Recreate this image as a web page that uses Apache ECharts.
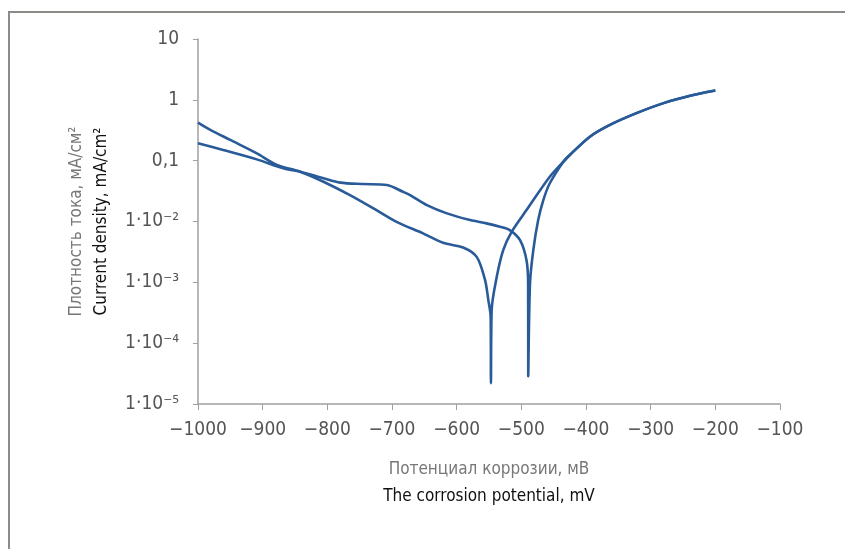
<!DOCTYPE html>
<html>
<head>
<meta charset="utf-8">
<script src="https://cdn.jsdelivr.net/npm/echarts@6/dist/echarts.min.js"></script>
<style>
  html, body { margin: 0; padding: 0; background: #fff; }
  #chart { width: 845px; height: 549px; }
</style>
</head>
<body>
<div id="chart"></div>
<script>
// curve 1 (Ecorr about -547 mV)
const curve1X = [-1000, -981, -950, -909, -878, -842, -806, -765, -724, -693, -652, -621, -590, -569, -556, -551, -547.4, -547,
  -545.9, -538, -528, -515, -492, -456, -430, -425, -394, -363, -322, -280, -239, -200];
const curve1Y = [0.423, 0.321, 0.219, 0.132, 0.0849, 0.0659, 0.0451, 0.0272, 0.0154, 0.00989, 0.00637, 0.00446, 0.00374, 0.00262, 0.00108, 0.000507, 0.000269, 0.000022,
  0.000347, 0.00123, 0.00338, 0.00676, 0.0154, 0.0545, 0.1096, 0.124, 0.248, 0.387, 0.604, 0.883, 1.164, 1.42];

// curve 2 (Ecorr about -489 mV)
const curve2X = [-1000, -961, -909, -868, -842, -806, -780, -744, -708, -683, -672, -646, -615, -579, -554, -533, -518, -502, -492, -489.5, -489.3,
  -486.6, -481.5, -474, -466, -456, -435, -425, -394, -363, -322, -280, -239, -200];
const curve2Y = [0.194, 0.150, 0.105, 0.0750, 0.0659, 0.0513, 0.0435, 0.0413, 0.0398, 0.0308, 0.0272, 0.0186, 0.0136, 0.01054, 0.00931, 0.00819, 0.00722, 0.00494, 0.00231, 0.000955, 0.0000284,
  0.000955, 0.00338, 0.0105, 0.0225, 0.0425, 0.0964, 0.124, 0.248, 0.387, 0.604, 0.883, 1.164, 1.42];

const yTickLabels = ["1·10⁻⁵", "1·10⁻⁴", "1·10⁻³", "1·10⁻²", "0,1", "1", "10"];
const xTicks = [-1000, -900, -800, -700, -600, -500, -400, -300, -200, -100];

const FONT = "'Liberation Sans Narrow', 'DejaVu Sans Condensed', 'Roboto Condensed', 'Noto Sans', sans-serif";
const LINE = "#2a5b99";

const pairs = (xs, ys) => xs.map((x, i) => [x, ys[i]]);

const chart = echarts.init(document.getElementById("chart"));
chart.setOption({
  animation: false,
  graphic: [
    {
      type: "rect",
      shape: { x: 9, y: 12, width: 900, height: 600 },
      style: { fill: "none", stroke: "#8b8b87", lineWidth: 2 },
      silent: true,
    },
  ],
  grid: { left: 198, right: 65, top: 39, bottom: 145 },
  xAxis: {
    type: "value",
    min: -1000,
    max: -100,
    interval: 100,
    axisLine: { lineStyle: { color: "#a0a0a0", width: 1.5 } },
    axisTick: { show: true, length: 6, lineStyle: { color: "#a0a0a0" } },
    splitLine: { show: false },
    axisLabel: {
      margin: 17,
      color: "#555",
      fontSize: 19,
      fontFamily: FONT,
      formatter: (v) => {
        const t = xTicks.find((x) => x === v);
        return t < 0 ? "−" + Math.abs(t) : String(t);
      },
    },
    name: "{a|Потенциал коррозии, мВ}\n{b|The corrosion potential, mV}",
    nameLocation: "middle",
    nameGap: 52,
    nameTextStyle: {
      fontFamily: FONT,
      rich: {
        a: { fontSize: 17, color: "#777", fontFamily: FONT, lineHeight: 27 },
        b: { fontSize: 17, color: "#111", fontFamily: FONT, lineHeight: 27 },
      },
    },
  },
  yAxis: {
    type: "log",
    logBase: 10,
    min: 1e-5,
    max: 10,
    axisLine: { show: true, lineStyle: { color: "#a0a0a0", width: 1.5 } },
    axisTick: { show: true, length: 5, lineStyle: { color: "#a0a0a0" } },
    splitLine: { show: false },
    axisLabel: {
      margin: 19,
      color: "#555",
      fontSize: 19,
      fontFamily: FONT,
      formatter: (v) => yTickLabels[Math.round(Math.log10(v)) + 5],
    },
    name: "{a|Плотность тока, мА/см²}\n{b|Current density, mA/cm²}",
    nameLocation: "middle",
    nameGap: 84,
    nameRotate: 90,
    nameTextStyle: {
      fontFamily: FONT,
      rich: {
        a: { fontSize: 17, color: "#777", fontFamily: FONT, lineHeight: 25 },
        b: { fontSize: 17, color: "#111", fontFamily: FONT, lineHeight: 25 },
      },
    },
  },
  series: [
    {
      type: "line",
      data: pairs(curve1X, curve1Y),
      showSymbol: false,
      smooth: 0.3,
      lineStyle: { color: LINE, width: 2.6 },
    },
    {
      type: "line",
      data: pairs(curve2X, curve2Y),
      showSymbol: false,
      smooth: 0.3,
      lineStyle: { color: LINE, width: 2.6 },
    },
  ],
});
</script>
</body>
</html>
